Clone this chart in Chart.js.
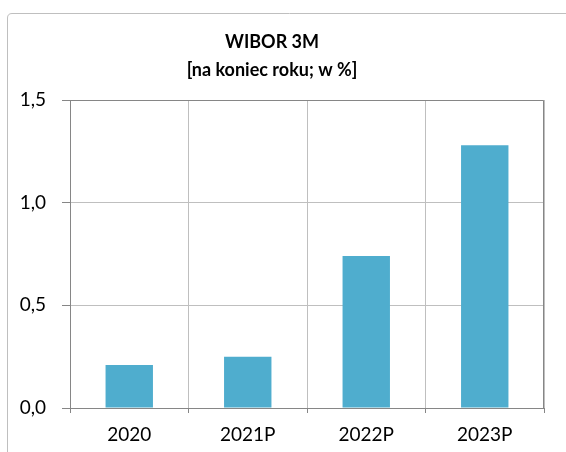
<!DOCTYPE html>
<html>
<head>
<meta charset="utf-8">
<script src="https://cdn.jsdelivr.net/npm/chart.js@4/dist/chart.umd.min.js"></script>
<style>
  html, body { margin: 0; padding: 0; background: #fff; }
  #wrap { position: relative; width: 566px; height: 452px; }
</style>
</head>
<body>
<div id="wrap"><canvas id="c" width="566" height="452"></canvas></div>
<script>
const categories = ['2020', '2021P', '2022P', '2023P'];
const wiborValues = [0.21, 0.25, 0.74, 1.28];
const titleLines = ['WIBOR 3M', '[na koniec roku; w %]'];
const yTicks = [0, 0.5, 1.0, 1.5];

const frame = {
  id: 'frame',
  beforeDraw(chart) {
    const ctx = chart.ctx;
    ctx.save();
    ctx.strokeStyle = '#BFBFBF';
    ctx.lineWidth = 1;
    ctx.beginPath();
    ctx.moveTo(7.5, 460);
    ctx.lineTo(7.5, 18);
    ctx.quadraticCurveTo(7.5, 13.5, 12, 13.5);
    ctx.lineTo(600, 13.5);
    ctx.stroke();
    ctx.restore();
  },
  afterDraw(chart) {
    const a = chart.chartArea;
    const ctx = chart.ctx;
    ctx.save();
    ctx.strokeStyle = '#868686';
    ctx.lineWidth = 1;
    ctx.beginPath();
    ctx.moveTo(Math.round(a.left) + 0.5, Math.round(a.top) + 0.5);
    ctx.lineTo(Math.round(a.right) - 0.5, Math.round(a.top) + 0.5);
    ctx.lineTo(Math.round(a.right) - 0.5, Math.round(a.bottom) + 0.5);
    ctx.stroke();
    ctx.restore();
  }
};

new Chart(document.getElementById('c'), {
  type: 'bar',
  data: {
    labels: categories,
    datasets: [{
      data: wiborValues,
      backgroundColor: '#4FADCE',
      borderWidth: 0,
      barPercentage: 0.4,
      categoryPercentage: 1.0
    }]
  },
  options: {
    responsive: false,
    animation: false,
    layout: { padding: { left: 0, right: 22, top: 0, bottom: 0 } },
    plugins: {
      legend: { display: false },
      tooltip: { enabled: false },
      title: {
        display: true,
        text: titleLines,
        color: '#000',
        font: { family: 'Lato', size: 18, weight: 'bold', lineHeight: 28 / 18 },
        padding: { top: 28, bottom: 16 }
      }
    },
    scales: {
      x: {
        grid: { display: true, color: '#BFBFBF', tickColor: '#868686', tickLength: 5, offset: true },
        border: { display: true, color: '#868686' },
        ticks: { color: '#000', font: { family: 'Lato', size: 19 }, padding: 10, maxRotation: 0 },
        afterFit(s) { s.height = 44; }
      },
      y: {
        min: 0, max: 1.5,
        afterBuildTicks(s) { s.ticks = yTicks.map(v => ({ value: v })); },
        grid: { color: '#BFBFBF', tickColor: '#868686', tickLength: 8 },
        border: { display: true, color: '#868686' },
        ticks: {
          color: '#000', font: { family: 'Lato', size: 19 }, padding: 16,
          callback: v => v.toFixed(1).replace('.', ',')
        },
        afterFit(s) { s.width = 70; }
      }
    }
  },
  plugins: [frame]
});
</script>
</body>
</html>
